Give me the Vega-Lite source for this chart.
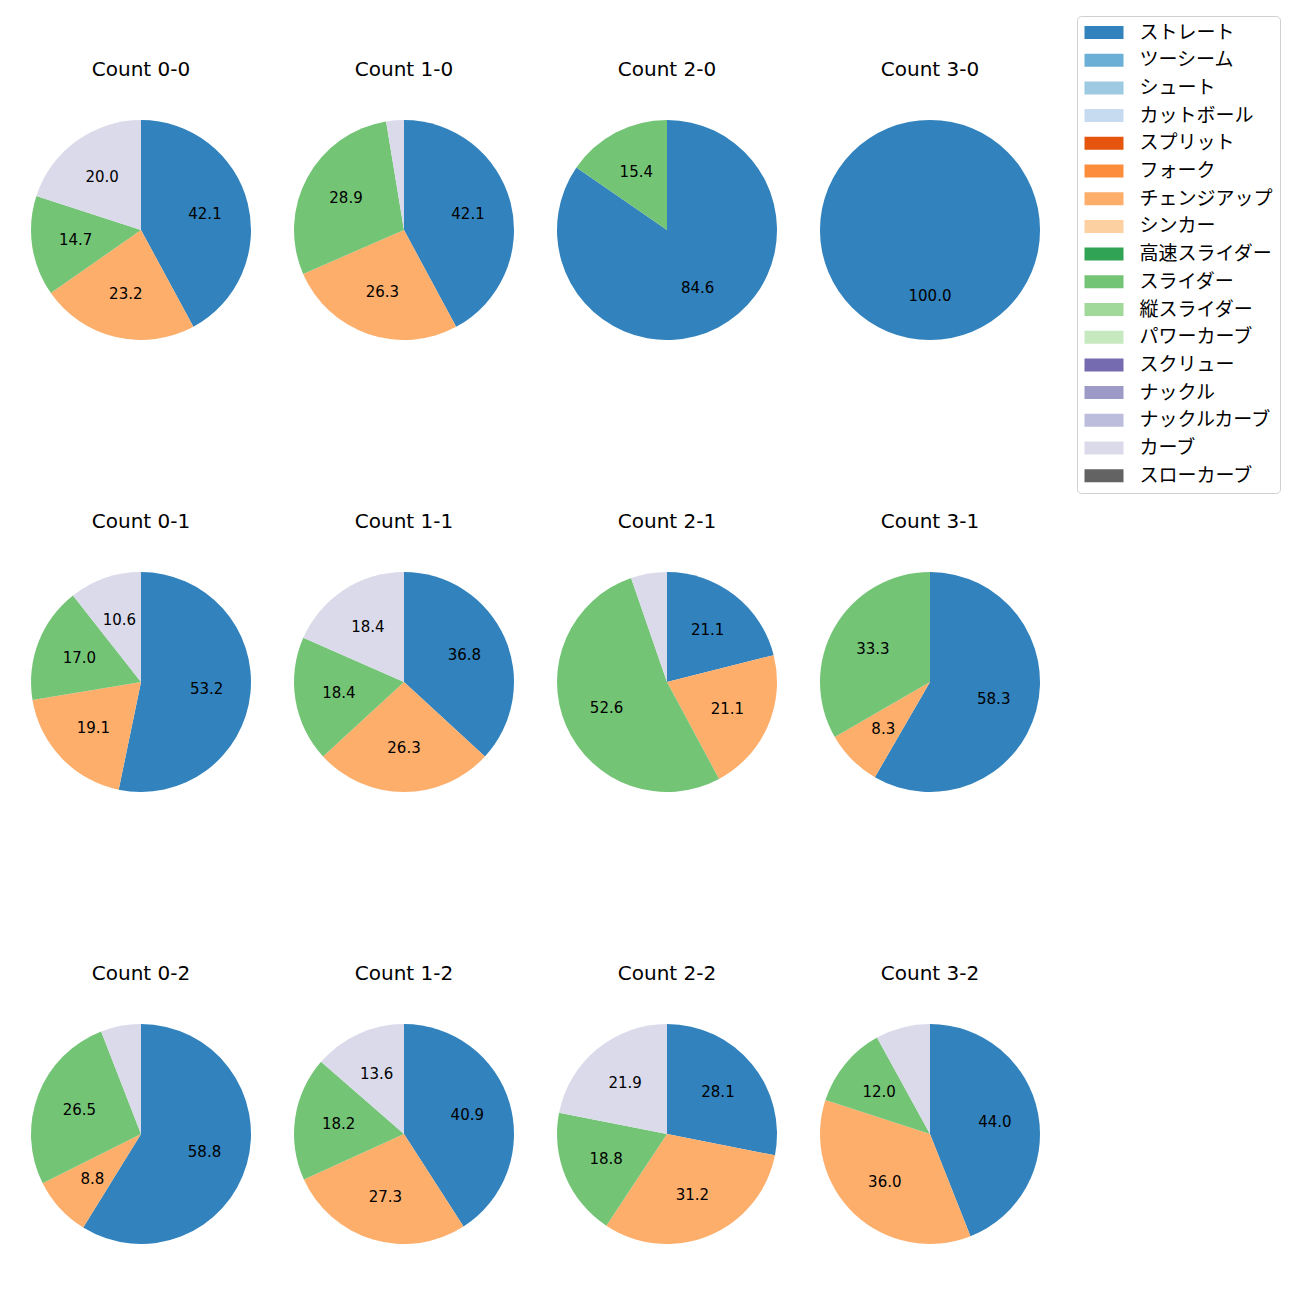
{
  "$schema": "https://vega.github.io/schema/vega-lite/v6.json",
  "padding": {"left": 31, "top": 15, "right": 17, "bottom": 40},
  "data": {"values": [
    {"count": "Count 0-0", "pitch": "ストレート", "k": 0, "value": 42.1},
    {"count": "Count 0-0", "pitch": "チェンジアップ", "k": 6, "value": 23.2},
    {"count": "Count 0-0", "pitch": "スライダー", "k": 9, "value": 14.7},
    {"count": "Count 0-0", "pitch": "カーブ", "k": 15, "value": 20.0},
    {"count": "Count 1-0", "pitch": "ストレート", "k": 0, "value": 42.1},
    {"count": "Count 1-0", "pitch": "チェンジアップ", "k": 6, "value": 26.3},
    {"count": "Count 1-0", "pitch": "スライダー", "k": 9, "value": 28.9},
    {"count": "Count 1-0", "pitch": "カーブ", "k": 15, "value": 2.6},
    {"count": "Count 2-0", "pitch": "ストレート", "k": 0, "value": 84.6},
    {"count": "Count 2-0", "pitch": "スライダー", "k": 9, "value": 15.4},
    {"count": "Count 3-0", "pitch": "ストレート", "k": 0, "value": 100.0},
    {"count": "Count 0-1", "pitch": "ストレート", "k": 0, "value": 53.2},
    {"count": "Count 0-1", "pitch": "チェンジアップ", "k": 6, "value": 19.1},
    {"count": "Count 0-1", "pitch": "スライダー", "k": 9, "value": 17.0},
    {"count": "Count 0-1", "pitch": "カーブ", "k": 15, "value": 10.6},
    {"count": "Count 1-1", "pitch": "ストレート", "k": 0, "value": 36.8},
    {"count": "Count 1-1", "pitch": "チェンジアップ", "k": 6, "value": 26.3},
    {"count": "Count 1-1", "pitch": "スライダー", "k": 9, "value": 18.4},
    {"count": "Count 1-1", "pitch": "カーブ", "k": 15, "value": 18.4},
    {"count": "Count 2-1", "pitch": "ストレート", "k": 0, "value": 21.1},
    {"count": "Count 2-1", "pitch": "チェンジアップ", "k": 6, "value": 21.1},
    {"count": "Count 2-1", "pitch": "スライダー", "k": 9, "value": 52.6},
    {"count": "Count 2-1", "pitch": "カーブ", "k": 15, "value": 5.3},
    {"count": "Count 3-1", "pitch": "ストレート", "k": 0, "value": 58.3},
    {"count": "Count 3-1", "pitch": "チェンジアップ", "k": 6, "value": 8.3},
    {"count": "Count 3-1", "pitch": "スライダー", "k": 9, "value": 33.3},
    {"count": "Count 0-2", "pitch": "ストレート", "k": 0, "value": 58.8},
    {"count": "Count 0-2", "pitch": "チェンジアップ", "k": 6, "value": 8.8},
    {"count": "Count 0-2", "pitch": "スライダー", "k": 9, "value": 26.5},
    {"count": "Count 0-2", "pitch": "カーブ", "k": 15, "value": 5.9},
    {"count": "Count 1-2", "pitch": "ストレート", "k": 0, "value": 40.9},
    {"count": "Count 1-2", "pitch": "チェンジアップ", "k": 6, "value": 27.3},
    {"count": "Count 1-2", "pitch": "スライダー", "k": 9, "value": 18.2},
    {"count": "Count 1-2", "pitch": "カーブ", "k": 15, "value": 13.6},
    {"count": "Count 2-2", "pitch": "ストレート", "k": 0, "value": 28.1},
    {"count": "Count 2-2", "pitch": "チェンジアップ", "k": 6, "value": 31.2},
    {"count": "Count 2-2", "pitch": "スライダー", "k": 9, "value": 18.8},
    {"count": "Count 2-2", "pitch": "カーブ", "k": 15, "value": 21.9},
    {"count": "Count 3-2", "pitch": "ストレート", "k": 0, "value": 44.0},
    {"count": "Count 3-2", "pitch": "チェンジアップ", "k": 6, "value": 36.0},
    {"count": "Count 3-2", "pitch": "スライダー", "k": 9, "value": 12.0},
    {"count": "Count 3-2", "pitch": "カーブ", "k": 15, "value": 8.0}
  ]},
  "facet": {
    "field": "count",
    "type": "nominal",
    "sort": ["Count 0-0", "Count 1-0", "Count 2-0", "Count 3-0", "Count 0-1", "Count 1-1", "Count 2-1", "Count 3-1", "Count 0-2", "Count 1-2", "Count 2-2", "Count 3-2"],
    "header": {"title": null, "labelFontSize": 20, "labelFont": "DejaVu Sans", "labelPadding": 40, "labelColor": "#000000"}
  },
  "columns": 4,
  "spacing": {"row": 172, "column": 43},
  "spec": {
    "width": 220,
    "height": 220,
    "encoding": {
      "theta": {"field": "value", "type": "quantitative", "stack": "normalize"},
      "order": {"field": "k", "type": "quantitative"}
    },
    "layer": [
      {
        "mark": {"type": "arc", "outerRadius": 110},
        "encoding": {
          "color": {
            "field": "pitch",
            "type": "nominal",
            "title": null,
            "scale": {
              "domain": ["ストレート", "ツーシーム", "シュート", "カットボール", "スプリット", "フォーク", "チェンジアップ", "シンカー", "高速スライダー", "スライダー", "縦スライダー", "パワーカーブ", "スクリュー", "ナックル", "ナックルカーブ", "カーブ", "スローカーブ"],
              "range": ["#3182bd", "#6baed6", "#9ecae1", "#c6dbef", "#e6550d", "#fd8d3c", "#fdae6b", "#fdd0a2", "#31a354", "#74c476", "#a1d99b", "#c7e9c0", "#756bb1", "#9e9ac8", "#bcbddc", "#dadaeb", "#636363"]
            },
            "legend": {"orient": "none", "legendX": 1046, "legendY": -104}
          }
        }
      },
      {
        "mark": {"type": "text", "radius": 66, "fontSize": 15, "font": "DejaVu Sans", "color": "#000000"},
        "encoding": {
          "detail": {"field": "pitch", "type": "nominal"},
          "text": {"condition": {"test": "datum.value >= 8.1", "field": "value", "type": "quantitative", "format": ".1f"}, "value": ""}
        }
      }
    ]
  },
  "config": {
    "view": {"stroke": null},
    "legend": {
      "labelFont": "Noto Sans CJK JP",
      "labelFontSize": 19,
      "labelColor": "#000000",
      "symbolType": "M-1,-1H5V1H-1Z",
      "symbolSize": 169,
      "symbolOffset": -2.5,
      "symbolStrokeWidth": 0,
      "labelOffset": 39,
      "rowPadding": 7.7,
      "padding": 7,
      "strokeColor": "#d0d0d0",
      "cornerRadius": 4,
      "fillColor": "#ffffff"
    }
  }
}
